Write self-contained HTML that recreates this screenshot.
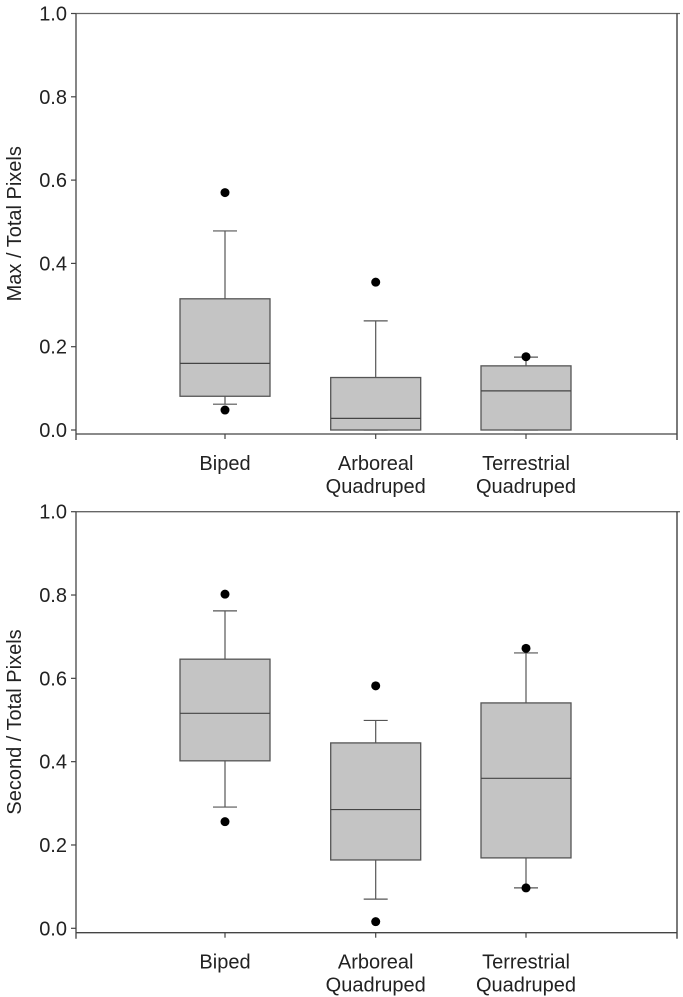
<!DOCTYPE html>
<html><head><meta charset="utf-8"><style>
html,body{margin:0;padding:0;background:#fff;}
svg{display:block;font-family:"Liberation Sans",Arial,sans-serif;}
</style></head><body>
<svg id="chart" width="683" height="997" viewBox="0 0 683 997" xmlns="http://www.w3.org/2000/svg"></svg>
<script>
const categories = ["Biped", "Arboreal Quadruped", "Terrestrial Quadruped"];
const yTicks = [0.0, 0.2, 0.4, 0.6, 0.8, 1.0];
const tickLabels = ["0.0", "0.2", "0.4", "0.6", "0.8", "1.0"];
// top panel: Max / Total Pixels  [whiskerLow, q1, median, q3, whiskerHigh]
const maxStats = [
  [0.062, 0.081, 0.160, 0.315, 0.478],
  [0.0, 0.0, 0.028, 0.126, 0.262],
  [0.0, 0.0, 0.094, 0.154, 0.175]
];
const maxOutliers = [[0.570, 0.048], [0.355], [0.176]];
// bottom panel: Second / Total Pixels
const secondStats = [
  [0.291, 0.402, 0.516, 0.646, 0.762],
  [0.070, 0.164, 0.285, 0.445, 0.499],
  [0.097, 0.169, 0.360, 0.541, 0.661]
];
const secondOutliers = [[0.802, 0.256], [0.582, 0.016], [0.672, 0.097]];

const NS = "http://www.w3.org/2000/svg";
const svg = document.getElementById("chart");
function mk(tag, attrs, parent) {
  const e = document.createElementNS(NS, tag);
  for (const k in attrs) e.setAttribute(k, attrs[k]);
  (parent || svg).appendChild(e);
  return e;
}
const centers = [225, 375.7, 526];
const halfW = 45, capW = 12;
const left = 76, right = 677;
const FS = 20;

function panel(name, y0, yTop, axisY, title, stats, outliers) {
  const g = mk("g", {});
  
  
  const s = (y0 - yTop);
  const Y = v => y0 - v * s;
  const stroke = "#555";
  mk("line", {x1: left, y1: Y(1), x2: right + 3, y2: Y(1), stroke: "#666", "stroke-width": 1.3}, g);
  mk("line", {x1: right, y1: Y(1), x2: right, y2: axisY + 6, stroke: "#333", "stroke-width": 1.3}, g);
  const ya = mk("line", {x1: left, y1: Y(1), x2: left, y2: axisY + 6, stroke: "#444", "stroke-width": 1.3}, g);
  
  
  const xa = mk("line", {x1: left, y1: axisY, x2: right, y2: axisY, stroke: "#444", "stroke-width": 1.3}, g);
  
  
  yTicks.forEach((t, i) => {
    mk("line", {x1: left - 5, y1: Y(t), x2: left, y2: Y(t), stroke: "#444", "stroke-width": 1.2}, g);
    const tx = mk("text", {x: left - 9, y: Y(t) + 7, "text-anchor": "end", "font-size": FS, fill: "#222"}, g);
    tx.textContent = tickLabels[i];
    
    
  });
  const yt = mk("text", {x: 0, y: 0, transform: `translate(21,${(Y(1)+Y(0))/2 + 2}) rotate(-90)`, "text-anchor": "middle", "font-size": FS, fill: "#222"}, g);
  yt.textContent = title;
  
  
  categories.forEach((c, i) => {
    const cx = centers[i];
    mk("line", {x1: cx, y1: axisY, x2: cx, y2: axisY + 5, stroke: "#444", "stroke-width": 1.2}, g);
    const words = c.split(" ");
    const tx = mk("text", {x: cx, y: axisY + 36, "text-anchor": "middle", "font-size": FS, fill: "#222"}, g);
    
    
    words.forEach((w, j) => {
      const ts = mk("tspan", {x: cx, dy: j === 0 ? 0 : 23}, tx);
      ts.textContent = w;
    });
    const [wl, q1, md, q3, wh] = stats[i];
    const bg = mk("g", {}, g);
    
    
    mk("line", {x1: cx, y1: Y(q3), x2: cx, y2: Y(wh), stroke: stroke, "stroke-width": 1.2}, bg);
    mk("line", {x1: cx - capW, y1: Y(wh), x2: cx + capW, y2: Y(wh), stroke: stroke, "stroke-width": 1.2}, bg);
    mk("line", {x1: cx, y1: Y(q1), x2: cx, y2: Y(wl), stroke: stroke, "stroke-width": 1.2}, bg);
    mk("line", {x1: cx - capW, y1: Y(wl), x2: cx + capW, y2: Y(wl), stroke: stroke, "stroke-width": 1.2}, bg);
    mk("rect", {x: cx - halfW, y: Y(q3), width: 2 * halfW, height: Math.max(Y(q1) - Y(q3), 0), fill: "#c4c4c4", stroke: stroke, "stroke-width": 1.3}, bg);
    mk("line", {x1: cx - halfW, y1: Y(md), x2: cx + halfW, y2: Y(md), stroke: "#444", "stroke-width": 1.2}, bg);
    outliers[i].forEach(o => {
      const d = mk("circle", {cx: cx, cy: Y(o), r: 4.5, fill: "#000"}, bg);
      
      
    });
  });
}
panel("max-total-panel", 430, 13.5, 434, "Max / Total Pixels", maxStats, maxOutliers);
panel("second-total-panel", 928.3, 511.7, 932.7, "Second / Total Pixels", secondStats, secondOutliers);
</script>
</body></html>
